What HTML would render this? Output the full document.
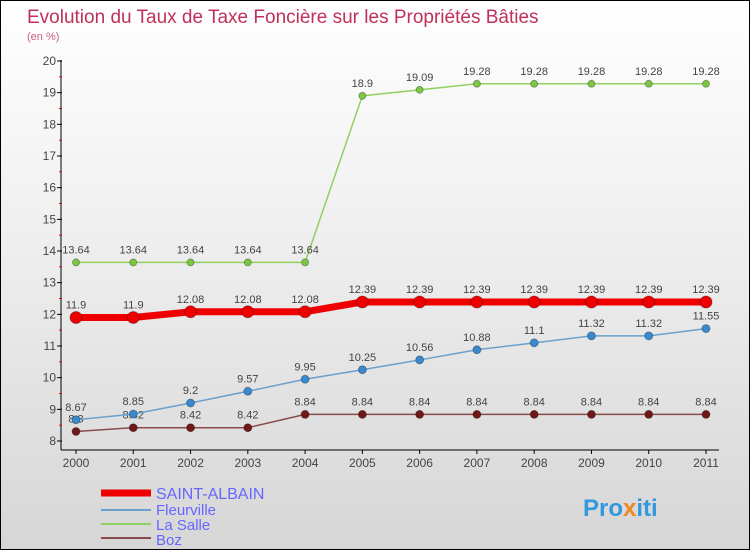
<!DOCTYPE html>
<html><head><meta charset="utf-8"><style>
body{margin:0}
#c{width:748px;height:548px;border:1px solid #000;position:relative;background:linear-gradient(#ffffff,#f0f0f0 40%,#d6d6d6);font-family:"Liberation Sans",sans-serif;overflow:hidden}
</style></head><body>
<div id="c">
<svg id="s" width="748" height="548" xmlns="http://www.w3.org/2000/svg" style="position:absolute;left:0;top:0">
<text x="26" y="22" font-size="19" fill="#c0305a">Evolution du Taux de Taxe Foncière sur les Propriétés Bâties</text>
<text x="26" y="39" font-size="11" fill="#c86080">(en %)</text>
<line x1="60" y1="59" x2="60" y2="449" stroke="#000"/>
<line x1="60" y1="449" x2="718" y2="449" stroke="#000"/>
<g id="axes"></g><g id="series"></g>
<g>
<line x1="100" y1="492" x2="150" y2="492" stroke="#e00" stroke-width="7"/>
<text x="155" y="498" font-size="16" fill="#6666ff">SAINT-ALBAIN</text>
<line x1="100" y1="509" x2="150" y2="509" stroke="#6aa0cc" stroke-width="2"/>
<text x="155" y="514" font-size="15" fill="#6666ff">Fleurville</text>
<line x1="100" y1="523" x2="150" y2="523" stroke="#8fd060" stroke-width="2"/>
<text x="155" y="529" font-size="15" fill="#6666ff">La Salle</text>
<line x1="100" y1="537" x2="150" y2="537" stroke="#8a4a4a" stroke-width="2"/>
<text x="155" y="544" font-size="15" fill="#6666ff">Boz</text>
</g>
<text x="582" y="515" font-size="24" font-weight="bold" fill="#3399dd">Pro<tspan fill="#ee8822">x</tspan>iti</text>
</svg>
</div>
<script>
const years=[2000,2001,2002,2003,2004,2005,2006,2007,2008,2009,2010,2011];
const yTicks=[8,9,10,11,12,13,14,15,16,17,18,19,20];
const saintAlbain=[11.9,11.9,12.08,12.08,12.08,12.39,12.39,12.39,12.39,12.39,12.39,12.39];
const fleurville=[8.67,8.85,9.2,9.57,9.95,10.25,10.56,10.88,11.1,11.32,11.32,11.55];
const laSalle=[13.64,13.64,13.64,13.64,13.64,18.9,19.09,19.28,19.28,19.28,19.28,19.28];
const boz=[8.3,8.42,8.42,8.42,8.84,8.84,8.84,8.84,8.84,8.84,8.84,8.84];
const NS="http://www.w3.org/2000/svg";
const X=i=>75+i*(630/11);
const Y=v=>440-(v-8)*(380/12);
function mk(t,a,p){const e=document.createElementNS(NS,t);for(const k in a)e.setAttribute(k,a[k]);p.appendChild(e);return e;}
const ax=document.getElementById('axes');
yTicks.forEach(v=>{const l=mk('line',{x1:56,x2:61,y1:Y(v),y2:Y(v),stroke:'#000'},ax);


if(v<20){const m=mk('line',{x1:58,x2:61,y1:Y(v+0.5),y2:Y(v+0.5),stroke:'#e00'},ax);}
const t=mk('text',{x:55,y:Y(v)+4,'font-size':12,fill:'#444','text-anchor':'end'},ax);t.textContent=v;

});
years.forEach((y,i)=>{mk('line',{x1:X(i),x2:X(i),y1:449,y2:453,stroke:'#000'},ax);
const t=mk('text',{x:X(i),y:466,'font-size':12,fill:'#444','text-anchor':'middle'},ax);t.textContent=y;

});
const sg=document.getElementById('series');
function series(d,name,col,w,r,dot,lab){
const g=mk('g',{},sg);


mk('polyline',{points:d.map((v,i)=>X(i)+','+Y(v)).join(' '),fill:'none',stroke:col,'stroke-width':w,'stroke-linejoin':'round'},g);
d.forEach((v,i)=>{const c=mk('circle',{cx:X(i),cy:Y(v),r:r,fill:dot,stroke:'rgba(0,0,0,0.3)'},g);


const t=mk('text',{x:X(i),y:Y(v)-9,'font-size':11,fill:'#444','text-anchor':'middle'},g);t.textContent=lab?String(v):v;});}
series(laSalle,'series-la-salle','#8fd060',1.5,3.5,'#7cc840');
series(boz,'series-boz','#8a4a4a',1.5,4,'#701818');
series(fleurville,'series-fleurville','#6aa0cc',1.5,4,'#3a8ad0');
series(saintAlbain,'series-saint-albain','#ee0000',7,6,'#ee0000');
</script>
</body></html>
